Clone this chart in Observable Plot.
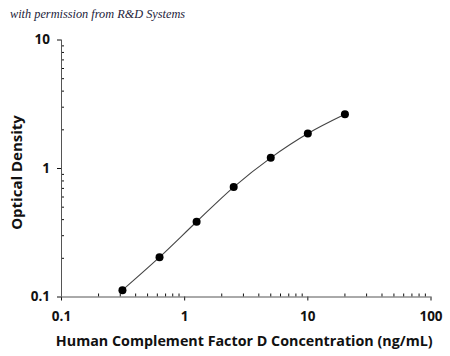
<!DOCTYPE html>
<html>
<head>
<meta charset="utf-8">
<script src="https://cdn.jsdelivr.net/npm/d3@7"></script>
<script src="https://cdn.jsdelivr.net/npm/@observablehq/plot@0.6"></script>
<style>
  body { margin: 0; background: #fff; }
  #wrap { position: relative; width: 450px; height: 356px; overflow: hidden; }
  #title { position: absolute; left: 10px; top: 7px; font-family: "Liberation Serif", serif; font-style: italic; font-size: 12.3px; color: #1c1c3a; }
  .maj text { font-weight: 700; }
</style>
</head>
<body>
<div id="wrap">
  <div id="title">with permission from R&amp;D Systems</div>
  <div id="chart"></div>
</div>
<script>
const conc = [0.3125, 0.625, 1.25, 2.5, 5, 10, 20];
const od = [0.113, 0.204, 0.385, 0.717, 1.21, 1.87, 2.64];
const xMajor = [0.1, 1, 10, 100];
const xLabels = ["0.1", "1", "10", "100"];
const yMajor = [0.1, 1, 10];
const yLabels = ["0.1", "1", "10"];
const minorX = [0.2,0.3,0.4,0.5,0.6,0.7,0.8,0.9, 2,3,4,5,6,7,8,9, 20,30,40,50,60,70,80,90];
const minorY = [0.2,0.3,0.4,0.5,0.6,0.7,0.8,0.9, 2,3,4,5,6,7,8,9];
const xTitle = "Human Complement Factor D Concentration (ng/mL)";
const yTitle = "Optical Density";

const data = conc.map((c, i) => ({c, v: od[i]}));
const axisColor = "#555";
const font = "Open Sans, sans-serif";

const chart = Plot.plot({
  width: 450,
  height: 356,
  marginLeft: 61,
  marginRight: 19.5,
  marginTop: 39.5,
  marginBottom: 59.5,
  style: {fontFamily: font, background: "#fff", color: "#111"},
  x: {type: "log", domain: [0.1, 100]},
  y: {type: "log", domain: [0.1, 10]},
  marks: [
    Plot.axisX({anchor: "bottom", ticks: xMajor, tickSize: 4, tickFormat: d => xLabels[xMajor.indexOf(d)], fontSize: 13.5, tickPadding: 10, label: null, className: "maj"}),
    Plot.axisX({anchor: "bottom", ticks: minorX, tickSize: -3, tickFormat: () => "", label: null}),
    Plot.axisY({anchor: "left", ticks: yMajor, tickSize: 4, tickFormat: d => yLabels[yMajor.indexOf(d)], fontSize: 13.5, tickPadding: 7.5, label: null, className: "maj"}),
    Plot.axisY({anchor: "left", ticks: minorY, tickSize: -3, tickFormat: () => "", label: null}),
    Plot.ruleY([0.1], {stroke: axisColor}),
    Plot.ruleX([0.1], {stroke: axisColor}),
    Plot.line(data, {x: "c", y: "v", curve: "catmull-rom", stroke: "#444", strokeWidth: 1.1}),
    Plot.dot(data, {x: "c", y: "v", r: 4, fill: "#000", stroke: "none"}),
    Plot.text([xTitle], {frameAnchor: "bottom", dy: 49, fontSize: 14.3, fontWeight: 700, fill: "#111", dx: -2}),
    Plot.text([yTitle], {frameAnchor: "left", dx: -44.5, dy: 4, rotate: -90, textAnchor: "middle", fontSize: 15, fontWeight: 700, fill: "#111"})
  ]
});
document.getElementById("chart").appendChild(chart);
</script>
</body>
</html>
